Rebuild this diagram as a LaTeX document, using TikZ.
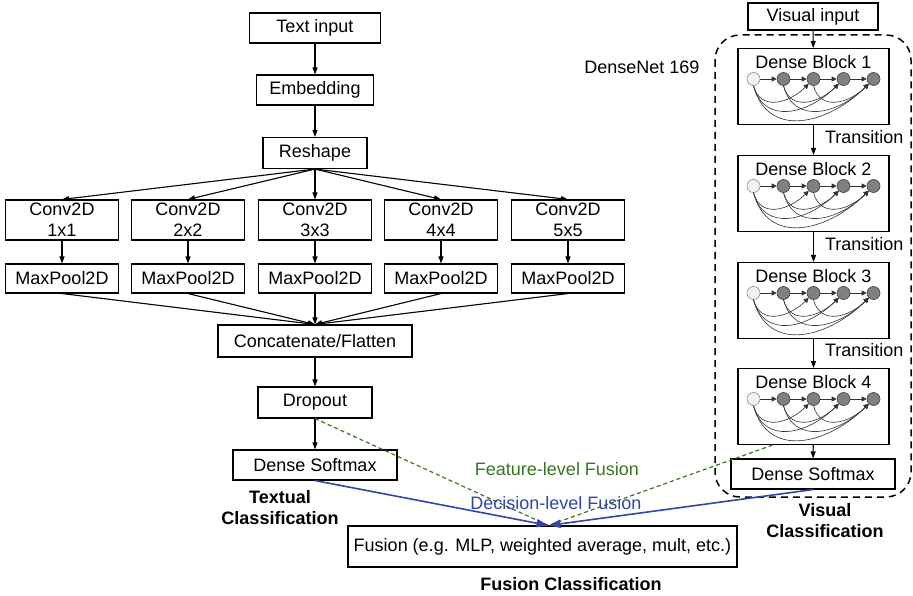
\documentclass[tikz,border=0pt]{standalone}
\usepackage{fontspec}
\setmainfont{Liberation Sans}
\usepackage{tikz}
\usetikzlibrary{arrows.meta,calc,positioning}
\definecolor{featgreen}{RGB}{56,118,29}
\definecolor{decblue}{RGB}{51,68,170}

\begin{document}
\begin{tikzpicture}[
    x=1pt, y=1pt,
    every node/.style={font=\fontsize{18}{21}\selectfont},
    box/.style={draw, line width=1.1pt, inner sep=0pt, align=center},
    lbl/.style={font=\fontsize{18}{21}\selectfont\bfseries, align=center},
    arr/.style={-{Triangle[length=7pt, width=5pt]}, line width=1.1pt},
    darr/.style={-{Triangle[length=5pt, width=5pt]}, line width=0.6pt, black!80},
    dnode/.style={circle, draw=black!75, fill=black!50, minimum size=13pt, inner sep=0pt, line width=0.6pt},
    dstart/.style={dnode, draw=black!45, fill=black!5},
    decision/.style={-{Triangle[length=12pt, width=8pt]}, line width=1.6pt, decblue},
    feature/.style={dashed, dash pattern=on 4pt off 3pt, line width=1.2pt, featgreen},
  ]
  \useasboundingbox (0,0) rectangle (913,-596);

  % ── Textual branch ───────────────────────────────────────────────────────

  \node[box, minimum width=131, minimum height=30] (txtin)   at (315,-28)  {Text input};
  \node[box, minimum width=117, minimum height=30] (embed)   at (315,-90)  {Embedding};
  \node[box, minimum width=104, minimum height=31] (reshape) at (315,-153) {Reshape};

  % Conv2D / MaxPool2D columns
  \foreach \k/\x/\s in {1/62/1x1, 2/188/2x2, 3/315/3x3, 4/441/4x4, 5/568/5x5} {
    \node[box, minimum width=113, minimum height=40] (conv\k) at (\x,-220)   {Conv2D\\\s};
    \node[box, minimum width=113, minimum height=29] (pool\k) at (\x,-278.5) {MaxPool2D};
  }

  \node[box, minimum width=194, minimum height=32] (concat)  at (315,-341)   {Concatenate/Flatten};
  \node[box, minimum width=114, minimum height=31] (dropout) at (315,-402.5) {Dropout};
  \node[box, minimum width=164, minimum height=30] (softT)   at (315,-465)   {Dense Softmax};
  \node[lbl] (txtcls) at (280,-508) {Textual\\Classification};

  % ── Visual branch ────────────────────────────────────────────────────────

  \node[box, minimum width=130, minimum height=27] (visin) at (813,-16.5) {Visual input};

  % Dense blocks
  \foreach \i/\y in {1/48, 2/155, 3/262, 4/368} {
    \node[box, minimum width=151, minimum height=76, anchor=north] (db\i) at (813.5,-\y) {};
    \node (dbt\i) at ($(db\i.north)+(0,-14)$) {Dense Block \i};
    \node[dstart] (c\i1) at ($(db\i.north)+(-60,-31)$) {};
    \foreach \k in {2,...,5}
      \node[dnode] (c\i\k) at ($(db\i.north)+(30*\k-90,-31)$) {};
    \foreach \a/\b in {1/2, 2/3, 3/4, 4/5}
      \draw[darr] (c\i\a) -- (c\i\b);
    \foreach \a/\b in {1/3, 1/4, 1/5, 2/4, 2/5, 3/5}
      \draw[darr] (c\i\a.south) to[out=-75, in=-135, looseness=1.25] (c\i\b.south west);
  }

  \node[box, minimum width=164, minimum height=30] (softR) at (813,-474) {Dense Softmax};

  % DenseNet frame
  \draw[dashed, dash pattern=on 7pt off 5pt, line width=1.5pt, rounded corners=25pt]
    (715,-35) rectangle (911,-497);
  \node (dnet) at (642,-67) {DenseNet 169};
  \node[lbl] (viscls) at (825,-521) {Visual\\Classification};

  % ── Fusion ───────────────────────────────────────────────────────────────

  \node[box, minimum width=389, minimum height=41] (fusion) at (542.5,-546.5)
    {Fusion (e.g. MLP, weighted average, mult, etc.)};
  \node[lbl] (fuscls) at (571,-584) {Fusion Classification};
  \coordinate (meet) at ($(fusion.north)+(6,0)$);

  % ── Edges ────────────────────────────────────────────────────────────────

  \draw[arr] (txtin)   -- (embed);
  \draw[arr] (embed)   -- (reshape);
  \foreach \k in {1,...,5} {
    \draw[arr] (reshape.south) -- (conv\k.north);
    \draw[arr] (conv\k)        -- (pool\k);
    \draw[arr] (pool\k.south)  -- (concat.north);
  }
  \draw[arr] (concat)  -- (dropout);
  \draw[arr] (dropout) -- (softT);

  \draw[arr] (visin) -- (db1);
  \foreach \a/\b in {1/2, 2/3, 3/4} {
    \draw[arr] (db\a) -- (db\b);
    \node[anchor=west] (tr\a) at ($(db\a.south)!0.5!(db\b.north)+(8,3)$) {Transition};
  }
  \draw[arr] (db4) -- (softR);

  % feature-level fusion (dashed)
  \draw[feature] (dropout.south) -- (meet);
  \draw[feature] ($(db4.south west)!0.23!(db4.south east)$) -- (meet);
  \node[text=featgreen] (featlbl) at (557,-469) {Feature-level Fusion};

  % decision-level fusion
  \draw[decision] (softT.south) -- (meet);
  \draw[decision] (softR.south) -- (meet);
  \node[text=decblue] (declbl) at (556,-503) {Decision-level Fusion};

\end{tikzpicture}
\end{document}
